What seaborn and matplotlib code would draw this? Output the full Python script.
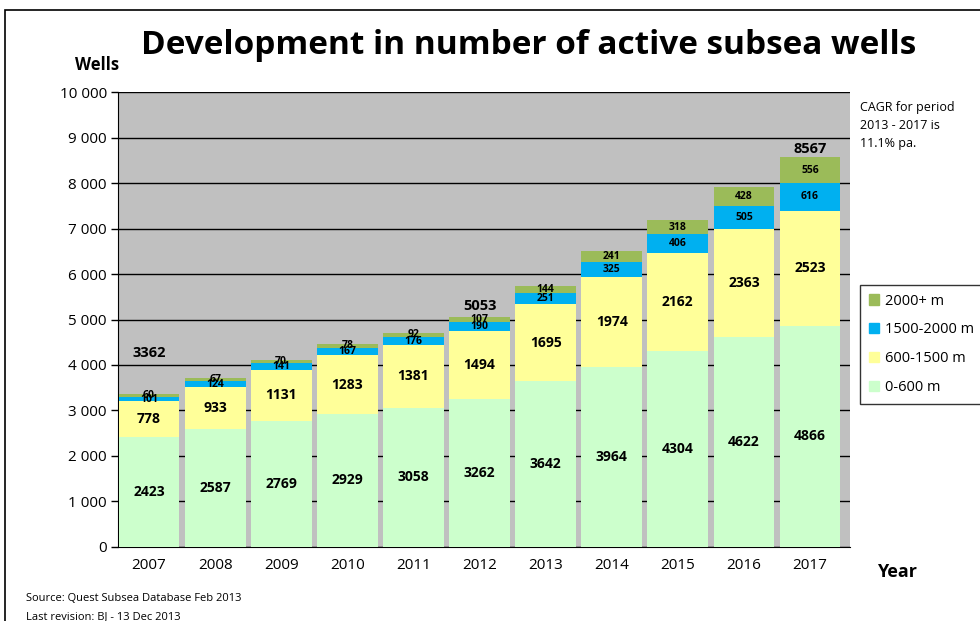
import matplotlib
matplotlib.use("Agg")
import numpy as np
import pandas as pd
import matplotlib.pyplot as plt
import seaborn as sns
from matplotlib.patches import Rectangle

years = ["2007", "2008", "2009", "2010", "2011", "2012", "2013", "2014", "2015", "2016", "2017"]
depth_0_600 = [2423, 2587, 2769, 2929, 3058, 3262, 3642, 3964, 4304, 4622, 4866]
depth_600_1500 = [778, 933, 1131, 1283, 1381, 1494, 1695, 1974, 2162, 2363, 2523]
depth_1500_2000 = [101, 124, 141, 167, 176, 190, 251, 325, 406, 505, 616]
depth_2000_plus = [60, 67, 70, 78, 92, 107, 144, 241, 318, 428, 556]
total_labels = {"2007": 3362, "2012": 5053, "2017": 8567}
series_names = ["0-600 m", "600-1500 m", "1500-2000 m", "2000+ m"]
colors = ["#CCFFCC", "#FFFF99", "#00B0F0", "#9BBB59"]

sns.set_style("white")
plt.rcParams["font.family"] = ["Open Sans", "DejaVu Sans"]
for k in ["text.color", "axes.labelcolor", "xtick.color", "ytick.color"]:
    plt.rcParams[k] = "black"

df = pd.DataFrame({"year": years, "0-600 m": depth_0_600, "600-1500 m": depth_600_1500,
                   "1500-2000 m": depth_1500_2000, "2000+ m": depth_2000_plus})
cum = df[series_names].cumsum(axis=1)

fig = plt.figure(figsize=(9.8, 6.21), dpi=100)
ax = fig.add_axes([0.1204, 0.1192, 0.7466, 0.7326])
ax.set_facecolor("#C0C0C0")

# draw tallest stack first, overlay the lower ones
for name, col in reversed(list(zip(series_names, colors))):
    sns.barplot(x=df["year"], y=cum[name], color=col, width=0.92, saturation=1,
                edgecolor="none", ax=ax, zorder=3)

ax.set_ylim(0, 10000)
ax.set_xlim(-0.47, 10.6)
ax.set_yticks(np.arange(0, 10001, 1000))
ax.set_yticklabels([f"{v:,}".replace(",", " ") for v in range(0, 10001, 1000)], fontsize=11)
ax.yaxis.grid(True, color="black", linewidth=1, zorder=1)
ax.set_axisbelow(True)
ax.tick_params(axis="y", direction="out", length=5, width=1, left=True, pad=3)
ax.tick_params(axis="x", length=0, labelsize=11, pad=8)
ax.set_xlabel("")
ax.set_ylabel("")
for s in ["top", "right"]:
    ax.spines[s].set_visible(False)
ax.spines["left"].set_color("black")
ax.spines["bottom"].set_color("black")

# segment labels
for i in range(len(years)):
    bottoms = [0] + [cum[n][i] for n in series_names[:-1]]
    vals = [depth_0_600[i], depth_600_1500[i], depth_1500_2000[i], depth_2000_plus[i]]
    for j, v in enumerate(vals):
        fs = 10 if j < 2 else 7.5
        ax.text(i, bottoms[j] + v / 2, str(v), ha="center", va="center",
                fontsize=fs, fontweight="bold", zorder=5)

total_offsets = {"2007": 900, "2012": 250, "2017": 180}
for yr, tot in total_labels.items():
    i = years.index(yr)
    ax.text(i, cum["2000+ m"][i] + total_offsets[yr], str(tot), ha="center", va="center",
            fontsize=10.5, fontweight="bold", zorder=5)

fig.text(0.539, 0.927, "Development in number of active subsea wells", ha="center", va="center",
         fontsize=24, fontweight="bold")
fig.text(0.099, 0.895, "Wells", ha="center", va="center", fontsize=12, fontweight="bold")
fig.text(0.915, 0.079, "Year", ha="center", va="center", fontsize=13, fontweight="bold")
fig.text(0.878, 0.838, "CAGR for period\n2013 - 2017 is\n11.1% pa.", ha="left", va="top",
         fontsize=9, linespacing=1.5)
fig.text(0.027, 0.037, "Source: Quest Subsea Database Feb 2013", ha="left", va="center", fontsize=8)
fig.text(0.027, 0.007, "Last revision: BJ - 13 Dec 2013", ha="left", va="center", fontsize=8)

handles = [Rectangle((0, 0), 1, 1, color=c) for c in reversed(colors)]
leg = fig.legend(handles, list(reversed(series_names)), loc="upper left",
                 bbox_to_anchor=(0.87, 0.553), frameon=True, fancybox=False,
                 fontsize=10.5, handlelength=0.7, handleheight=0.7, handletextpad=0.4,
                 labelspacing=0.95, borderpad=0.6)
leg.get_frame().set_edgecolor("black")
leg.get_frame().set_linewidth(1)

fig.patches.append(Rectangle((0.005, -0.05), 1.2, 1.034, transform=fig.transFigure,
                             fill=False, edgecolor="black", linewidth=1.2, clip_on=False))

fig.savefig("out.png", dpi=100)
